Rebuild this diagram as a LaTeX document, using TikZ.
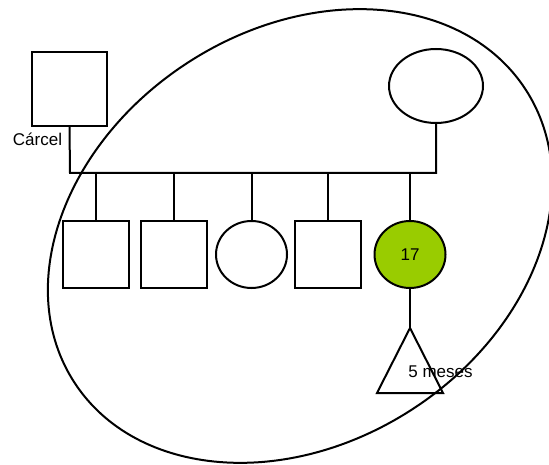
\documentclass[tikz,border=0pt]{standalone}
\usepackage{fontspec}
\setmainfont{Liberation Sans}
\usetikzlibrary{shapes.geometric}
\definecolor{fem}{HTML}{99CC00}
\begin{document}
\begin{tikzpicture}[x=1pt,y=-1pt, line width=2pt,
  male/.style={draw, rectangle, minimum width=66pt, minimum height=67pt, inner sep=0pt},
  female/.style={draw, ellipse, minimum width=71pt, minimum height=67pt, inner sep=0pt},
  lbl/.style={font=\fontsize{17}{20}\selectfont, inner sep=0pt}]
\useasboundingbox (0,0) rectangle (549,465);
% household ellipse
\node[draw, ellipse, inner sep=0pt, minimum width=538pt, minimum height=413pt, rotate=33] (house) at (300,236) {};
% parents
\node[male, minimum width=75pt, minimum height=74pt] (father) at (69.5,89) {};
\node[female, minimum width=94pt, minimum height=74pt] (mother) at (436,86) {};
\node[lbl] (carcel) at (37.5,139) {Cárcel};
\coordinate (bl) at (70,173);
\coordinate (br) at (436,173);
\draw (father.south) -- (bl) -- (br) -- (mother.south);
% children
\node[male] (c1) at (96,254.5) {};
\node[male] (c2) at (174,254.5) {};
\node[female] (c3) at (251.5,254.5) {};
\node[male] (c4) at (328,254.5) {};
\node[female, fill=fem, font=\fontsize{17}{20}\selectfont] (c5) at (410,254.5) {17};
\foreach \c in {c1,c2,c3,c4,c5}
  \draw (\c.north) -- (\c.north |- bl);
% grandchild
\coordinate (apex) at (410,328);
\coordinate (tl) at (377,393);
\coordinate (tr) at (443,393);
\draw (c5.south) -- (apex);
\draw[line join=miter] (apex) -- (tl) -- (tr) -- cycle;
\node[lbl] (meses) at (440.5,372) {5 meses};
\end{tikzpicture}
\end{document}
